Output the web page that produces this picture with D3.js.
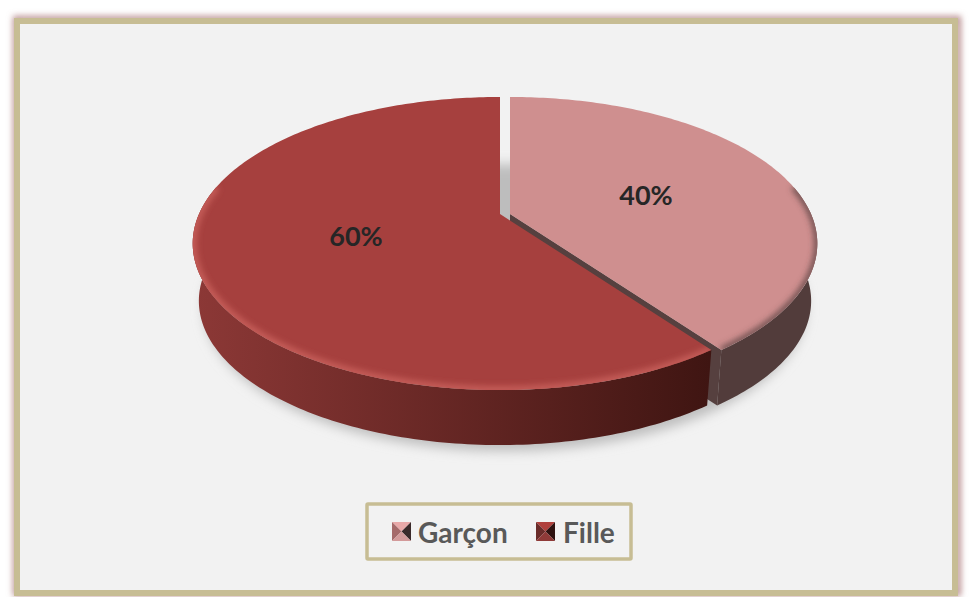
<!DOCTYPE html>
<html><head><meta charset="utf-8">
<style>html,body{margin:0;padding:0;background:#fff}svg{display:block}text{font-family:Lato,"Open Sans",sans-serif;font-weight:700}</style>
<script src="https://cdn.jsdelivr.net/npm/d3@7"></script></head>
<body><svg id="c" width="972" height="597"></svg>
<script>
const categories = ["Garçon", "Fille"];
const values = [40, 60];
const labels = ["40%", "60%"];
const topColors = ["#cf8f8f", "#a6403e"];
const sideColors = [["#5a4342", "#523c3b"], ["#8c3836", "#3f1512"]];

const svg = d3.select("#c");
const defs = svg.append("defs");
const W = 972, H = 597;

// projection of the pie disc (u right, v toward viewer) to the screen
const persp = -0.2014, R = 301, yApex = 214, yScale = 97.5;
function project(u, v, cx, level) {
  const w = 1 + persp * v;
  const s = 1 - 0.02 * level;
  return [cx + s * R * u / w, (yScale * v + yApex) / w + 58 * level + 3*level*(-v)];
}
const pie = d3.pie().value(d => d).sort(null);
const arcs = pie(values);      // starts at 12 o'clock, clockwise
const offsets = [510, 500];    // exploded slice centres

function rim(a0, a1, cx, level) {
  const n = Math.max(2, Math.ceil((a1 - a0) * 60));
  return d3.range(n + 1).map(i => {
    const a = a0 + (a1 - a0) * i / n;
    return project(Math.sin(a), -Math.cos(a), cx, level);
  });
}
const line = d3.line();

// filters and gradients
const blur = (id, sd) => defs.append("filter").attr("id", id)
  .attr("x", "-30%").attr("y", "-30%").attr("width", "160%").attr("height", "160%")
  .append("feGaussianBlur").attr("stdDeviation", sd);
blur("b3", 3); blur("b6", 6); blur("b5", 5);

sideColors.forEach((c, i) => {
  const g = defs.append("linearGradient").attr("id", "side" + i)
    .attr("gradientUnits", "userSpaceOnUse")
    .attr("x1", 195).attr("x2", 710).attr("y1", 0).attr("y2", 0);
  g.append("stop").attr("offset", 0).attr("stop-color", c[0]);
  g.append("stop").attr("offset", 1).attr("stop-color", c[1]);
});

// frame
svg.append("rect").attr("x", 16).attr("y", 19).attr("width", 942).attr("height", 574)
  .attr("fill", "none").attr("stroke", "#b98f90").attr("stroke-width", 6).attr("filter", "url(#b3)");
svg.append("rect").attr("x", 17).attr("y", 21).attr("width", 938).attr("height", 572)
  .attr("fill", "#f2f2f2").attr("stroke", "#c7bd94").attr("stroke-width", 6);

// floor shadow
const shadowPts = rim(0, 2 * Math.PI, 505, 1);
svg.append("path").attr("d", line(shadowPts.map(p => [p[0], p[1] + 6])) + "Z")
  .attr("fill", "#bdbdbd").attr("filter", "url(#b6)");

// slices, far slice first so that the near one overlaps its cut
arcs.forEach((d, i) => {
  const cx = offsets[i];
  const g = svg.append("g");
  const topEdge = rim(d.startAngle, d.endAngle, cx, 0);
  const apex = project(0, 0, cx, 0);
  const apexLow = project(0, 0, cx, 1);
  const visible = a => -Math.cos(a) > -0.2;
  // outer wall
  const a0 = Math.max(d.startAngle, Math.PI / 2 - 0.2), a1 = Math.min(d.endAngle, 3 * Math.PI / 2 + 0.2);
  const up = rim(a0, a1, cx, 0), lo = rim(a0, a1, cx, 1).reverse();
  // cut faces
  const startT = project(Math.sin(d.startAngle), -Math.cos(d.startAngle), cx, 0);
  const startB = project(Math.sin(d.startAngle), -Math.cos(d.startAngle), cx, 1);
  const endT = project(Math.sin(d.endAngle), -Math.cos(d.endAngle), cx, 0);
  const endB = project(Math.sin(d.endAngle), -Math.cos(d.endAngle), cx, 1);
  if (i === 0) {
    g.append("path").attr("d", line([apex, endT, endB, apexLow]) + "Z").attr("fill", "#56403f");
  }
  g.append("path").attr("d", line(up.concat(lo)) + "Z").attr("fill", `url(#side${i})`);
  // top face
  const facePath = line([apex].concat(topEdge)) + "Z";
  const clipId = "face" + i;
  defs.append("clipPath").attr("id", clipId).append("path").attr("d", facePath);
  g.append("path").attr("d", facePath).attr("fill", topColors[i]);
  // soft bevel along the near rim
  const bevel = g.append("g").attr("clip-path", `url(#${clipId})`);
  bevel.append("path").attr("d", line(up)).attr("fill", "none")
    .attr("stroke", i === 0 ? "#56403f" : "#c9605c").attr("stroke-width", i === 0 ? 5 : 7)
    .attr("filter", "url(#b3)");
  // labels
});

// data labels
const labelAt = [[646, 194], [356, 235]];
labels.forEach((t, i) => {
  svg.append("text").attr("x", labelAt[i][0]).attr("y", labelAt[i][1])
    .attr("text-anchor", "middle").attr("dominant-baseline", "central")
    .attr("font-size", 27).attr("fill", "#262626").text(t);
});

// legend
svg.append("rect").attr("x", 367).attr("y", 504).attr("width", 264).attr("height", 55)
  .attr("rx", 1).attr("fill", "#f2f2f2").attr("stroke", "#c7bd94").attr("stroke-width", 3.5);
const legendX = [[392, 418], [536, 563]];
const pyramid = [["#e8a9a9","#a56a6a","#3a2a2a","#d39a9a"],["#b0403c","#6a2c2a","#2e1210","#8f3a38"]];
categories.forEach((c, i) => {
  const x = legendX[i][0], y = 522, s = 19;
  const cxy = [x + s / 2, y + s / 2];
  const corners = [[x, y], [x + s, y], [x + s, y + s], [x, y + s]];
  [0, 1, 2, 3].forEach(k => {
    const order = [[0,1],[3,0],[1,2],[2,3]][k];
    svg.append("path").attr("d", line([corners[order[0]], corners[order[1]], cxy]) + "Z").attr("fill", pyramid[i][k]);
  });
  svg.append("text").attr("x", legendX[i][1]).attr("y", 532).attr("dominant-baseline", "central")
    .attr("font-size", 28).attr("fill", "#595959").text(c);
});
</script></body></html>
